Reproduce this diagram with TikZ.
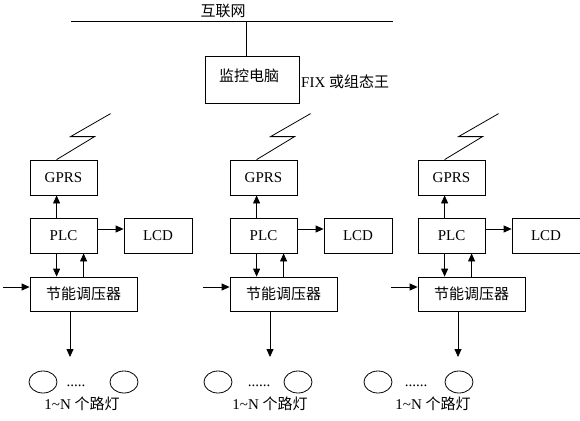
\documentclass[tikz,border=0pt]{standalone}
\usepackage{fontspec}
\setmainfont{Liberation Serif}
\newfontfamily\cjk{Noto Sans CJK SC}
\usetikzlibrary{arrows.meta,shapes.geometric}
\tikzset{
  box/.style={draw, line width=0.8pt, inner sep=0pt, minimum height=35pt, font=\fontsize{15}{18}\selectfont},
  arr/.style={line width=0.8pt, -{Triangle[length=8pt,width=7pt]}},
  wire/.style={line width=0.8pt},
  lamp/.style={draw, ellipse, line width=0.8pt, inner sep=0pt, minimum width=28pt, minimum height=22pt},
  txt/.style={font=\fontsize{15}{18}\selectfont, inner sep=0pt}
}
\begin{document}
\begin{tikzpicture}[x=1pt,y=-1pt]
\useasboundingbox (0,0) rectangle (580,420);
% top network
\coordinate (netL) at (71,21);
\coordinate (netR) at (393,21);
\coordinate (tap) at (246,21);
\node[txt] (inet) at (223,11) {\cjk 互联网};
\draw[wire] (netL) -- (netR);
\node[box, minimum width=94pt, minimum height=47pt] (pc) at (252,79.5) {};
\node[txt] (pctxt) at (249,76) {\cjk 监控电脑};
\draw[wire] (tap) -- (tap |- pc.north);
\node[txt, anchor=west] (fix) at (301,82) {FIX {\cjk 或组态王}};
% columns
\foreach \i/\x in {1/30,2/230,3/418}{
  \node[box, minimum width=67pt] (g\i) at (\x+33.5,177.5) {GPRS};
  \node[box, minimum width=67pt] (p\i) at (\x+33.5,235.5) {PLC};
  \node[box, minimum width=68pt] (l\i) at (\x+128,235.5) {LCD};
  \node[box, minimum width=107pt, minimum height=34pt] (r\i) at (\x+53.5,294) {\cjk 节能调压器};
  \coordinate (in\i) at (\x-27,287);
  \coordinate (d\i) at (\x+40,357);
  % lightning
  \draw[wire] ([xshift=27pt]g\i.north west) -- ++(38,-23) -- ++(-24,0) -- ++(40,-23);
  \draw[arr] ([xshift=27pt]p\i.north west) -- ([xshift=27pt]g\i.south west);
  \draw[arr] ([yshift=6.5pt]p\i.east) -- ([yshift=6.5pt]l\i.west);
  \draw[arr] ([xshift=27pt]p\i.south west) -- ([xshift=27pt]r\i.north west);
  \draw[arr] ([xshift=54pt]r\i.north west) -- ([xshift=54pt]p\i.south west);
  \draw[arr] (in\i) -- (in\i -| r\i.west);
  \draw[arr] (d\i |- r\i.south) -- (d\i);
}
% lamps
\node[lamp] (a1) at (43,382) {};
\node[lamp] (b1) at (124,382) {};
\node[lamp] (a2) at (218,382) {};
\node[lamp] (b2) at (298,382) {};
\node[lamp] (a3) at (378,382) {};
\node[lamp] (b3) at (459,382) {};
\node[txt, anchor=base] (dots1) at (76,386) {.....};
\node[txt, anchor=base] (dots2) at (259,386) {......};
\node[txt, anchor=base] (dots3) at (416,386) {......};
\node[txt] (lab1) at (82,404) {1\textasciitilde N {\cjk 个路灯}};
\node[txt] (lab2) at (270,404) {1\textasciitilde N {\cjk 个路灯}};
\node[txt] (lab3) at (433,404) {1\textasciitilde N {\cjk 个路灯}};
\end{tikzpicture}
\end{document}
